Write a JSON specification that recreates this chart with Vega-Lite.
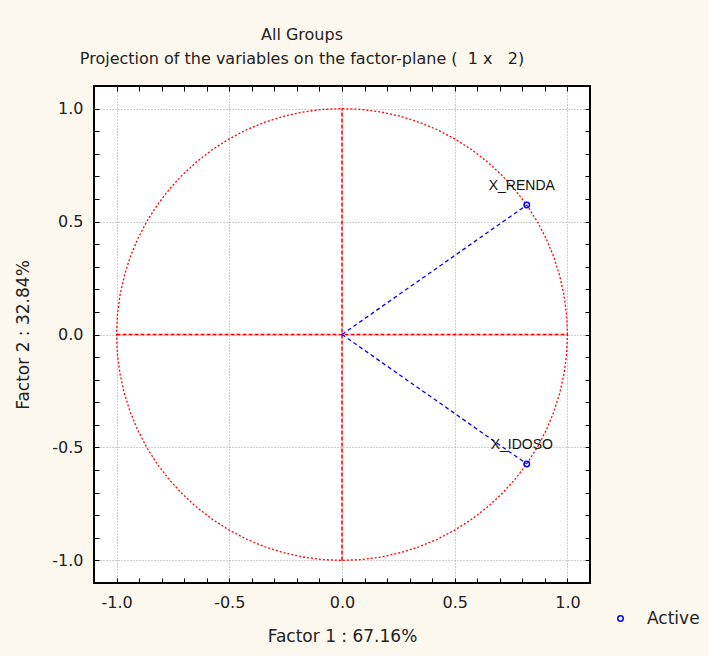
{
  "$schema": "https://vega.github.io/schema/vega-lite/v6.json",
  "width": 496,
  "height": 497,
  "padding": {"left": 14, "top": 26, "right": 8, "bottom": 12},
  "background": "#fdf8ee",
  "view": {"fill": "white", "stroke": "black", "strokeWidth": 2},
  "config": {
    "font": "DejaVu Sans",
    "axis": {"labelFont": "DejaVu Sans", "titleFont": "DejaVu Sans", "labelColor": "#222222", "titleColor": "#222222"}
  },
  "title": {
    "text": "All Groups",
    "subtitle": "Projection of the variables on the factor-plane (\u00a0\u00a01 x \u00a0\u00a02)",
    "font": "DejaVu Sans",
    "subtitleFont": "DejaVu Sans",
    "fontSize": 16,
    "subtitleFontSize": 16,
    "fontWeight": "normal",
    "color": "#222222",
    "subtitleColor": "#222222",
    "subtitlePadding": 8,
    "offset": 19,
    "dx": -40,
    "anchor": "middle"
  },
  "datasets": {
    "circle": [
      {"a":0,"x":1,"y":0},{"a":5,"x":0.9962,"y":0.0872},{"a":10,"x":0.9848,"y":0.1736},{"a":15,"x":0.9659,"y":0.2588},{"a":20,"x":0.9397,"y":0.342},{"a":25,"x":0.9063,"y":0.4226},{"a":30,"x":0.866,"y":0.5},{"a":35,"x":0.8192,"y":0.5736},{"a":40,"x":0.766,"y":0.6428},{"a":45,"x":0.7071,"y":0.7071},{"a":50,"x":0.6428,"y":0.766},{"a":55,"x":0.5736,"y":0.8192},{"a":60,"x":0.5,"y":0.866},{"a":65,"x":0.4226,"y":0.9063},{"a":70,"x":0.342,"y":0.9397},{"a":75,"x":0.2588,"y":0.9659},{"a":80,"x":0.1736,"y":0.9848},{"a":85,"x":0.0872,"y":0.9962},{"a":90,"x":0,"y":1},
      {"a":95,"x":-0.0872,"y":0.9962},{"a":100,"x":-0.1736,"y":0.9848},{"a":105,"x":-0.2588,"y":0.9659},{"a":110,"x":-0.342,"y":0.9397},{"a":115,"x":-0.4226,"y":0.9063},{"a":120,"x":-0.5,"y":0.866},{"a":125,"x":-0.5736,"y":0.8192},{"a":130,"x":-0.6428,"y":0.766},{"a":135,"x":-0.7071,"y":0.7071},{"a":140,"x":-0.766,"y":0.6428},{"a":145,"x":-0.8192,"y":0.5736},{"a":150,"x":-0.866,"y":0.5},{"a":155,"x":-0.9063,"y":0.4226},{"a":160,"x":-0.9397,"y":0.342},{"a":165,"x":-0.9659,"y":0.2588},{"a":170,"x":-0.9848,"y":0.1736},{"a":175,"x":-0.9962,"y":0.0872},{"a":180,"x":-1,"y":0},
      {"a":185,"x":-0.9962,"y":-0.0872},{"a":190,"x":-0.9848,"y":-0.1736},{"a":195,"x":-0.9659,"y":-0.2588},{"a":200,"x":-0.9397,"y":-0.342},{"a":205,"x":-0.9063,"y":-0.4226},{"a":210,"x":-0.866,"y":-0.5},{"a":215,"x":-0.8192,"y":-0.5736},{"a":220,"x":-0.766,"y":-0.6428},{"a":225,"x":-0.7071,"y":-0.7071},{"a":230,"x":-0.6428,"y":-0.766},{"a":235,"x":-0.5736,"y":-0.8192},{"a":240,"x":-0.5,"y":-0.866},{"a":245,"x":-0.4226,"y":-0.9063},{"a":250,"x":-0.342,"y":-0.9397},{"a":255,"x":-0.2588,"y":-0.9659},{"a":260,"x":-0.1736,"y":-0.9848},{"a":265,"x":-0.0872,"y":-0.9962},{"a":270,"x":0,"y":-1},
      {"a":275,"x":0.0872,"y":-0.9962},{"a":280,"x":0.1736,"y":-0.9848},{"a":285,"x":0.2588,"y":-0.9659},{"a":290,"x":0.342,"y":-0.9397},{"a":295,"x":0.4226,"y":-0.9063},{"a":300,"x":0.5,"y":-0.866},{"a":305,"x":0.5736,"y":-0.8192},{"a":310,"x":0.6428,"y":-0.766},{"a":315,"x":0.7071,"y":-0.7071},{"a":320,"x":0.766,"y":-0.6428},{"a":325,"x":0.8192,"y":-0.5736},{"a":330,"x":0.866,"y":-0.5},{"a":335,"x":0.9063,"y":-0.4226},{"a":340,"x":0.9397,"y":-0.342},{"a":345,"x":0.9659,"y":-0.2588},{"a":350,"x":0.9848,"y":-0.1736},{"a":355,"x":0.9962,"y":-0.0872},{"a":360,"x":1,"y":0}
    ],
    "cross": [
      {"x1": -1, "y1": 0, "x2": 1, "y2": 0},
      {"x1": 0, "y1": -1, "x2": 0, "y2": 1}
    ],
    "vectors": [
      {"x0": 0, "y0": 0, "x": 0.8195, "y": 0.5731},
      {"x0": 0, "y0": 0, "x": 0.8195, "y": -0.5731}
    ],
    "vars": [
      {"name": "X_RENDA", "x": 0.8195, "y": 0.5731, "group": "Active"},
      {"name": "X_IDOSO", "x": 0.8195, "y": -0.5731, "group": "Active"}
    ]
  },
  "resolve": {"axis": {"x": "independent", "y": "independent"}},
  "layer": [
    {
      "data": {"name": "circle"},
      "mark": {"type": "line", "color": "#ff0000", "strokeWidth": 1.3, "strokeDash": [2, 2]},
      "encoding": {
        "x": {"field": "x", "type": "quantitative",
          "scale": {"domain": [-1.1, 1.1], "nice": false, "zero": false},
          "axis": {"orient": "bottom", "values": [-1, -0.5, 0, 0.5, 1],
            "labelExpr": "datum.value < 0 ? '-' + format(-datum.value, '.1f') : format(datum.value, '.1f')",
            "grid": true, "gridColor": "#9a9a9a", "gridDash": [1, 2], "gridWidth": 1,
            "ticks": false, "domain": false, "labelFontSize": 16, "labelPadding": 11,
            "title": "Factor 1 : 67.16%", "titleFontSize": 17, "titleFontWeight": "normal", "titlePadding": 18}},
        "y": {"field": "y", "type": "quantitative",
          "scale": {"domain": [-1.1, 1.1], "nice": false, "zero": false},
          "axis": {"orient": "left", "values": [-1, -0.5, 0, 0.5, 1],
            "labelExpr": "datum.value < 0 ? '-' + format(-datum.value, '.1f') : format(datum.value, '.1f')",
            "grid": true, "gridColor": "#9a9a9a", "gridDash": [1, 2], "gridWidth": 1,
            "ticks": false, "domain": false, "labelFontSize": 16, "labelPadding": 11,
            "title": "Factor 2 : 32.84%", "titleFontSize": 17, "titleFontWeight": "normal", "titlePadding": 19}},
        "order": {"field": "a", "type": "quantitative"}
      }
    },
    {
      "data": {"name": "cross"},
      "mark": {"type": "rule", "color": "#ff0000", "strokeWidth": 1.5, "strokeDash": [4, 2]},
      "encoding": {
        "x": {"field": "x1", "type": "quantitative",
          "axis": {"orient": "bottom", "values": [-1, -0.9, -0.8, -0.7, -0.6, -0.5, -0.4, -0.3, -0.2, -0.1, 0, 0.1, 0.2, 0.3, 0.4, 0.5, 0.6, 0.7, 0.8, 0.9, 1],
            "labels": false, "grid": false, "domain": false, "ticks": true, "tickSize": -5, "tickColor": "black", "tickWidth": 1, "title": null}},
        "x2": {"field": "x2"},
        "y": {"field": "y1", "type": "quantitative",
          "axis": {"orient": "left", "values": [-1, -0.9, -0.8, -0.7, -0.6, -0.5, -0.4, -0.3, -0.2, -0.1, 0, 0.1, 0.2, 0.3, 0.4, 0.5, 0.6, 0.7, 0.8, 0.9, 1],
            "labels": false, "grid": false, "domain": false, "ticks": true, "tickSize": -5, "tickColor": "black", "tickWidth": 1, "title": null}},
        "y2": {"field": "y2"}
      }
    },
    {
      "data": {"name": "vectors"},
      "mark": {"type": "rule", "color": "#0000ff", "strokeWidth": 1.3, "strokeDash": [4, 3]},
      "encoding": {
        "x": {"field": "x0", "type": "quantitative",
          "axis": {"orient": "top", "values": [-1, -0.9, -0.8, -0.7, -0.6, -0.5, -0.4, -0.3, -0.2, -0.1, 0, 0.1, 0.2, 0.3, 0.4, 0.5, 0.6, 0.7, 0.8, 0.9, 1],
            "labels": false, "grid": false, "domain": false, "ticks": true, "tickSize": -5, "tickColor": "black", "tickWidth": 1, "title": null}},
        "x2": {"field": "x"},
        "y": {"field": "y0", "type": "quantitative",
          "axis": {"orient": "right", "values": [-1, -0.9, -0.8, -0.7, -0.6, -0.5, -0.4, -0.3, -0.2, -0.1, 0, 0.1, 0.2, 0.3, 0.4, 0.5, 0.6, 0.7, 0.8, 0.9, 1],
            "labels": false, "grid": false, "domain": false, "ticks": true, "tickSize": -5, "tickColor": "black", "tickWidth": 1, "title": null}},
        "y2": {"field": "y"}
      }
    },
    {
      "data": {"name": "vars"},
      "mark": {"type": "point", "shape": "circle", "filled": false, "size": 30, "strokeWidth": 1.5, "opacity": 1},
      "encoding": {
        "x": {"field": "x", "type": "quantitative", "axis": null},
        "y": {"field": "y", "type": "quantitative", "axis": null},
        "color": {"field": "group", "type": "nominal",
          "scale": {"range": ["#0000ff"]},
          "legend": {"orient": "none", "legendX": 518, "legendY": 524, "title": null, "padding": 0,
            "labelFontSize": 17, "labelColor": "#222222", "labelFont": "DejaVu Sans", "symbolSize": 30, "symbolStrokeWidth": 1.5, "labelOffset": 18}}
      }
    },
    {
      "data": {"name": "vars"},
      "mark": {"type": "text", "fontSize": 14, "color": "#111111", "dx": -5, "dy": -19, "align": "center", "baseline": "middle", "font": "Liberation Sans"},
      "encoding": {
        "x": {"field": "x", "type": "quantitative", "axis": null},
        "y": {"field": "y", "type": "quantitative", "axis": null},
        "text": {"field": "name"}
      }
    }
  ]
}
